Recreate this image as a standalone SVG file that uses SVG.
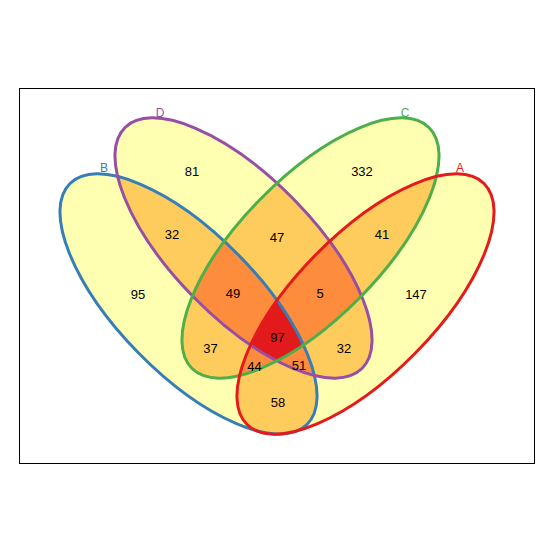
<svg xmlns="http://www.w3.org/2000/svg" width="554" height="553" viewBox="0 0 554 553">
  <style>
    .num { font-family: "Liberation Sans", Arial, sans-serif; font-size: 13px; fill: #000; text-anchor: middle; }
    .lbl { font-family: "Liberation Sans", Arial, sans-serif; font-size: 12px; text-anchor: middle; }
    .outline { fill: none; stroke-width: 3; }
    .r1 { fill: #FFFFB2; }
    .r2 { fill: #FECC5C; }
    .r3 { fill: #FD8D3C; }
    .r4 { fill: #E31A1C; }
  </style>
  <defs>
    <ellipse id="eA" cx="365.5" cy="304" rx="169" ry="70" transform="rotate(-45.5 365.5 304)"/>
    <ellipse id="eB" cx="188.5" cy="304" rx="169" ry="70" transform="rotate(45.5 188.5 304)"/>
    <ellipse id="eC" cx="310.5" cy="248" rx="169" ry="70" transform="rotate(-45.5 310.5 248)"/>
    <ellipse id="eD" cx="243.5" cy="248" rx="169" ry="70" transform="rotate(45.5 243.5 248)"/>
    <clipPath id="cA"><use href="#eA"/></clipPath>
    <clipPath id="cB"><use href="#eB"/></clipPath>
    <clipPath id="cC"><use href="#eC"/></clipPath>
    <clipPath id="cD"><use href="#eD"/></clipPath>
  </defs>
  <rect x="0" y="0" width="554" height="553" fill="#FFFFFF"/>
  <rect x="19.5" y="88.5" width="515" height="375" fill="none" stroke="#000" stroke-width="1"/>

  <g id="regions">
    <g class="r1">
      <use href="#eA"/><use href="#eB"/><use href="#eC"/><use href="#eD"/>
    </g>
    <g class="r2">
      <g clip-path="url(#cA)"><use href="#eB"/><use href="#eC"/><use href="#eD"/></g>
      <g clip-path="url(#cB)"><use href="#eC"/><use href="#eD"/></g>
      <g clip-path="url(#cC)"><use href="#eD"/></g>
    </g>
    <g class="r3">
      <g clip-path="url(#cA)"><g clip-path="url(#cB)"><use href="#eC"/><use href="#eD"/></g></g>
      <g clip-path="url(#cA)"><g clip-path="url(#cC)"><use href="#eD"/></g></g>
      <g clip-path="url(#cB)"><g clip-path="url(#cC)"><use href="#eD"/></g></g>
    </g>
    <g class="r4">
      <g clip-path="url(#cA)"><g clip-path="url(#cB)"><g clip-path="url(#cC)"><use href="#eD"/></g></g></g>
    </g>
  </g>

  <g id="connectors"></g>

  <g id="setB"><use href="#eB" class="outline" stroke="#377EB8"/><text class="lbl" x="104" y="172" fill="#377EB8">B</text></g>
  <g id="setD"><use href="#eD" class="outline" stroke="#984EA3"/><text class="lbl" x="160" y="117" fill="#984EA3">D</text></g>
  <g id="setC"><use href="#eC" class="outline" stroke="#4DAF4A"/><text class="lbl" x="405" y="117" fill="#4DAF4A">C</text></g>
  <g id="setA"><use href="#eA" class="outline" stroke="#E41A1C"/><text class="lbl" x="460" y="172" fill="#E41A1C">A</text></g>

  <g id="counts">
    <text class="num" x="192" y="175.5">81</text>
    <text class="num" x="362" y="175.5">332</text>
    <text class="num" x="172" y="238.5">32</text>
    <text class="num" x="277" y="241.5">47</text>
    <text class="num" x="382" y="238.5">41</text>
    <text class="num" x="138" y="298.5">95</text>
    <text class="num" x="233" y="298">49</text>
    <text class="num" x="320" y="298">5</text>
    <text class="num" x="416" y="298.5">147</text>
    <text class="num" x="210.5" y="352.5">37</text>
    <text class="num" x="277.5" y="342">97</text>
    <text class="num" x="344" y="352.5">32</text>
    <text class="num" x="254.5" y="370.5">44</text>
    <text class="num" x="299" y="370">51</text>
    <text class="num" x="278" y="406.5">58</text>
  </g>
</svg>
